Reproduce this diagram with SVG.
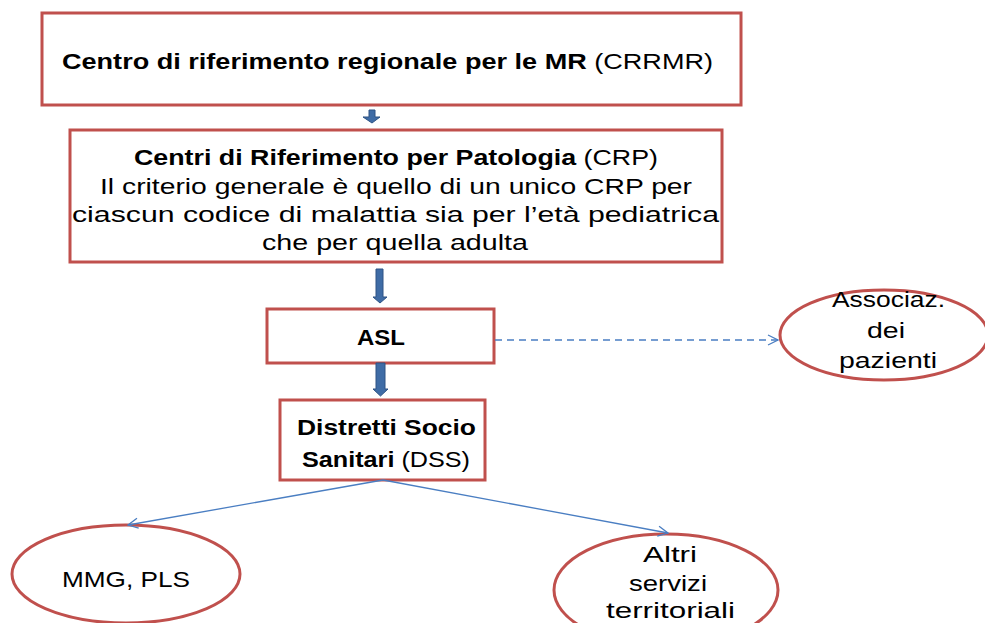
<svg xmlns="http://www.w3.org/2000/svg" width="985" height="623" viewBox="0 0 985 623">
<defs>
<style>
.box{fill:#fff;stroke:#C0504D;stroke-width:3}
.ell{fill:#fff;stroke:#C0504D;stroke-width:3}
.t{font-family:"Liberation Sans",Arial,sans-serif;font-size:22px;fill:#000;text-anchor:middle}
.b{font-weight:bold}
.blk{fill:#3F6CA6;stroke:#2E5384;stroke-width:1}
.con{fill:none;stroke:#4A7EC2;stroke-width:1.3}
</style>
<marker id="open" viewBox="0 0 12 12" refX="11" refY="6" markerWidth="12" markerHeight="12" markerUnits="userSpaceOnUse" orient="auto">
<path d="M1,1 L11,6 L1,11" fill="none" stroke="#4A7EC2" stroke-width="1.3"/>
</marker>
</defs>
<rect width="985" height="623" fill="#fff"/>
<g id="crrmr">
<rect class="box" x="42" y="13" width="699" height="92"/>
<text class="t" x="387.5" y="69" textLength="651" lengthAdjust="spacingAndGlyphs"><tspan class="b">Centro di riferimento regionale per le MR</tspan> (CRRMR)</text>
</g>
<g id="crp">
<rect class="box" x="70" y="130" width="652" height="132"/>
<text class="t" x="396" y="165" textLength="524" lengthAdjust="spacingAndGlyphs"><tspan class="b">Centri di Riferimento per Patologia</tspan> (CRP)</text>
<text class="t" x="396" y="194" textLength="592" lengthAdjust="spacingAndGlyphs">Il criterio generale è quello di un unico CRP per</text>
<text class="t" x="395.5" y="222" textLength="647" lengthAdjust="spacingAndGlyphs">ciascun codice di malattia sia per l’età pediatrica</text>
<text class="t" x="395" y="250" textLength="266" lengthAdjust="spacingAndGlyphs">che per quella adulta</text>
</g>
<g id="asl">
<rect class="box" x="267" y="309" width="227" height="54"/>
<text class="t b" x="381" y="345" textLength="48" lengthAdjust="spacingAndGlyphs">ASL</text>
</g>
<g id="dss">
<rect class="box" x="280" y="400" width="205" height="80"/>
<text class="t b" x="386.5" y="435" textLength="179" lengthAdjust="spacingAndGlyphs">Distretti Socio</text>
<text class="t" x="386" y="467" textLength="168" lengthAdjust="spacingAndGlyphs"><tspan class="b">Sanitari</tspan> (DSS)</text>
</g>
<g id="assoc">
<ellipse class="ell" cx="884" cy="335" rx="104" ry="45"/>
<text class="t" x="888.5" y="307" textLength="113" lengthAdjust="spacingAndGlyphs">Associaz.</text>
<text class="t" x="886" y="338" textLength="38" lengthAdjust="spacingAndGlyphs">dei</text>
<text class="t" x="888" y="368" textLength="98" lengthAdjust="spacingAndGlyphs">pazienti</text>
</g>
<g id="mmg">
<ellipse class="ell" cx="126" cy="574" rx="114" ry="49"/>
<text class="t" x="126" y="587" textLength="128" lengthAdjust="spacingAndGlyphs">MMG, PLS</text>
</g>
<g id="altri">
<ellipse class="ell" cx="666" cy="590" rx="112" ry="56"/>
<text class="t" x="670" y="562" textLength="54" lengthAdjust="spacingAndGlyphs">Altri</text>
<text class="t" x="668" y="591" textLength="78" lengthAdjust="spacingAndGlyphs">servizi</text>
<text class="t" x="670.5" y="618" textLength="129" lengthAdjust="spacingAndGlyphs">territoriali</text>
</g>
<g id="connectors">
<path class="blk" d="M369,110 H375 V117 H380 L372,123 L363,117 H369 Z"/>
<path class="blk" d="M376,269 H383 V297 H387 L380,303 L373,297 H376 Z"/>
<path class="blk" d="M376,363 H385 V389 H388 L380.5,396 L373,389 H376 Z"/>
<line class="con" x1="495" y1="340" x2="778" y2="340" stroke-dasharray="7,5" marker-end="url(#open)"/>
<line class="con" x1="383" y1="480" x2="128" y2="525" marker-end="url(#open)"/>
<line class="con" x1="383" y1="480" x2="668" y2="533" marker-end="url(#open)"/>
</g>
</svg>
